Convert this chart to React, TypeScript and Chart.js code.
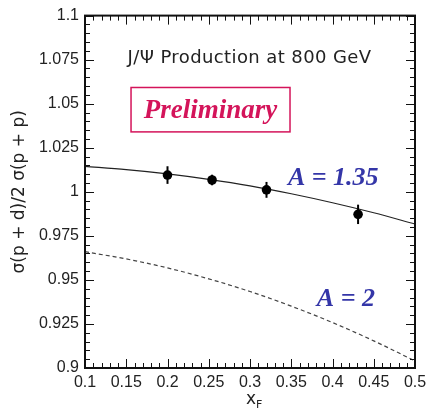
import React, { useEffect, useRef } from "react";
import { Chart, registerables } from "chart.js";

Chart.register(...registerables);

// ---- data ----
const pointX = [0.2, 0.254, 0.32, 0.431];
const pointY = [1.0095, 1.0067, 1.0011, 0.9872];
const pointErr = [0.005, 0.003, 0.0045, 0.0055];

const curveX = [0.1, 0.15, 0.2, 0.25, 0.3, 0.35, 0.4, 0.45, 0.5];
const curveA135 = [1.0144, 1.0126, 1.0102, 1.0071, 1.0034, 0.9989, 0.9938, 0.9881, 0.9817];
const curveA2 = [0.966, 0.9619, 0.9568, 0.9506, 0.9434, 0.9351, 0.9258, 0.9154, 0.904];

const xRange = [0.1, 0.5];
const yRange = [0.9, 1.1];
const xMajor = 0.05;
const yMajor = 0.025;
const xMinor = 0.01;
const yMinor = 0.005;

const titleText = "J/\u03A8 Production at 800 GeV";
const prelimText = "Preliminary";
const labelA135 = "A = 1.35";
const labelA2 = "A = 2";
const yTitle = "\u03C3(p + d)/2 \u03C3(p + p)";
const xTitleMain = "x";
const xTitleSub = "F";

const crimson = "#d4145a";
const blue = "#3436a8";

const fmt = (v: number) => String(parseFloat(v.toFixed(3)));

const overlay = {
  id: "overlay",
  afterDatasetsDraw(chart: any) {
    const { ctx, scales } = chart;
    const x = scales.x, y = scales.y;
    ctx.save();
    ctx.strokeStyle = "#000";
    ctx.lineWidth = 2;
    for (let i = 0; i < pointX.length; i++) {
      const px = x.getPixelForValue(pointX[i]);
      ctx.beginPath();
      ctx.moveTo(px, y.getPixelForValue(pointY[i] - pointErr[i]));
      ctx.lineTo(px, y.getPixelForValue(pointY[i] + pointErr[i]));
      ctx.stroke();
    }
    ctx.restore();
  },
  afterDraw(chart: any) {
    const { ctx, chartArea: a, scales } = chart;
    const x = scales.x, y = scales.y;
    ctx.save();
    // frame
    ctx.strokeStyle = "#111";
    ctx.lineWidth = 2;
    ctx.strokeRect(a.left, a.top, a.right - a.left, a.bottom - a.top);
    // ticks
    ctx.lineWidth = 1;
    const nx = Math.round((xRange[1] - xRange[0]) / xMinor);
    for (let i = 0; i <= nx; i++) {
      const v = xRange[0] + i * xMinor;
      const major = i % Math.round(xMajor / xMinor) === 0;
      const len = major ? 9 : 5;
      const px = Math.round(x.getPixelForValue(v)) + 0.5;
      ctx.beginPath();
      ctx.moveTo(px, a.bottom);
      ctx.lineTo(px, a.bottom - len);
      ctx.moveTo(px, a.top);
      ctx.lineTo(px, a.top + len);
      ctx.stroke();
    }
    const ny = Math.round((yRange[1] - yRange[0]) / yMinor);
    for (let i = 0; i <= ny; i++) {
      const v = yRange[0] + i * yMinor;
      const major = i % Math.round(yMajor / yMinor) === 0;
      const len = major ? 9 : 5;
      const py = Math.round(y.getPixelForValue(v)) + 0.5;
      ctx.beginPath();
      ctx.moveTo(a.left, py);
      ctx.lineTo(a.left + len, py);
      ctx.moveTo(a.right, py);
      ctx.lineTo(a.right - len, py);
      ctx.stroke();
    }
    // title
    ctx.fillStyle = "#222";
    ctx.font = "18px 'DejaVu Sans'";
    (ctx as any).letterSpacing = "0.4px";
    ctx.textAlign = "center";
    ctx.textBaseline = "middle";
    ctx.fillText(titleText, x.getPixelForValue(0.2994), y.getPixelForValue(1.076));
    (ctx as any).letterSpacing = "0px";
    // preliminary box
    const bx0 = x.getPixelForValue(0.1558), bx1 = x.getPixelForValue(0.3485);
    const by0 = y.getPixelForValue(1.0592), by1 = y.getPixelForValue(1.034);
    ctx.strokeStyle = crimson;
    ctx.lineWidth = 1.5;
    ctx.strokeRect(bx0, by0, bx1 - bx0, by1 - by0);
    ctx.fillStyle = crimson;
    ctx.font = "bold italic 27px 'Liberation Serif'";
    ctx.fillText(prelimText, (bx0 + bx1) / 2, (by0 + by1) / 2 + 1);
    // A labels
    ctx.fillStyle = blue;
    ctx.font = "bold italic 26px 'Liberation Serif'";
    ctx.textAlign = "left";
    ctx.fillText(labelA135, x.getPixelForValue(0.346), y.getPixelForValue(1.0078));
    ctx.fillText(labelA2, x.getPixelForValue(0.381), y.getPixelForValue(0.939));
    // y title
    ctx.fillStyle = "#222";
    ctx.font = "17px 'DejaVu Sans'";
    ctx.textAlign = "center";
    ctx.save();
    ctx.translate(20, (a.top + a.bottom) / 2);
    ctx.rotate(-Math.PI / 2);
    ctx.fillText(yTitle, 0, 0);
    ctx.restore();
    // x title
    const cx = x.getPixelForValue(0.3);
    ctx.font = "17px 'DejaVu Sans'";
    ctx.textAlign = "right";
    ctx.fillText(xTitleMain, cx + 6, a.bottom + 32);
    ctx.font = "11px 'DejaVu Sans'";
    ctx.textAlign = "left";
    ctx.fillText(xTitleSub, cx + 6, a.bottom + 37);
    ctx.restore();
  },
};

export default function App() {
  const ref = useRef<HTMLCanvasElement>(null);
  useEffect(() => {
    if (!ref.current) return;
    const chart = new Chart(ref.current, {
      type: "line",
      data: {
        datasets: [
          {
            type: "scatter",
            data: pointX.map((v, i) => ({ x: v, y: pointY[i] })),
            backgroundColor: "#000",
            borderColor: "#000",
            pointRadius: 4.8,
            pointBorderWidth: 0,
            order: 0,
          } as any,
          {
            data: curveX.map((v, i) => ({ x: v, y: curveA135[i] })),
            borderColor: "#222",
            borderWidth: 1.2,
            pointRadius: 0,
            cubicInterpolationMode: "monotone",
            fill: false,
            order: 1,
          },
          {
            data: curveX.map((v, i) => ({ x: v, y: curveA2[i] })),
            borderColor: "#444",
            borderWidth: 1.2,
            borderDash: [4, 3],
            pointRadius: 0,
            cubicInterpolationMode: "monotone",
            fill: false,
            order: 2,
          },
        ],
      },
      options: {
        animation: false,
        responsive: true,
        maintainAspectRatio: false,
        layout: { padding: { top: 10, right: 18, left: 0, bottom: 0 } },
        plugins: { legend: { display: false }, tooltip: { enabled: false } },
        scales: {
          x: {
            type: "linear",
            min: xRange[0],
            max: xRange[1],
            afterFit: (s: any) => { s.height = 42; },
            grid: { display: false, drawTicks: false },
            border: { display: false },
            ticks: {
              stepSize: xMajor,
              padding: 5,
              color: "#222",
              font: { family: "'Liberation Sans'", size: 16 },
              callback: (v: any) => fmt(Number(v)),
              autoSkip: false,
              maxRotation: 0,
            },
          },
          y: {
            type: "linear",
            min: yRange[0],
            max: yRange[1],
            afterFit: (s: any) => { s.width = 85; },
            grid: { display: false, drawTicks: false },
            border: { display: false },
            ticks: {
              stepSize: yMajor,
              padding: 6,
              color: "#222",
              font: { family: "'Liberation Sans'", size: 16 },
              callback: (v: any) => fmt(Number(v)),
              autoSkip: false,
            },
          },
        },
      },
      plugins: [overlay],
    });
    return () => chart.destroy();
  }, []);
  return (
    <div style={{ position: "fixed", left: 0, top: 0, width: 433, height: 410, background: "#fff" }}>
      <canvas ref={ref} />
    </div>
  );
}
